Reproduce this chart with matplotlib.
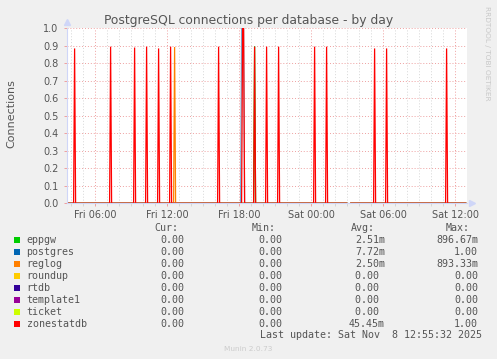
import numpy as np
import matplotlib
matplotlib.use("Agg")
import matplotlib.pyplot as plt

W, H = 497, 359

# time axis in hours counted from Fri 00:00, 5 minute samples
t_first, t_last = 3 + 43 / 60, 36 + 53 / 60
x_range = (3 + 40 / 60, 37.0)
tick_hours = [6, 12, 18, 24, 30, 36]
tick_labels = ["Fri 06:00", "Fri 12:00", "Fri 18:00", "Sat 00:00", "Sat 06:00", "Sat 12:00"]

names = ["eppgw", "postgres", "reglog", "roundup", "rtdb", "template1", "ticket", "zonestatdb"]
colors = ["#00CC00", "#0066B3", "#FF8000", "#FFCC00", "#330099", "#990099", "#CCFF00", "#FF0000"]
cur_vals = ["0.00", "0.00", "0.00", "0.00", "0.00", "0.00", "0.00", "0.00"]
min_vals = ["0.00", "0.00", "0.00", "0.00", "0.00", "0.00", "0.00", "0.00"]
avg_vals = ["2.51m", "7.72m", "2.50m", "0.00 ", "0.00 ", "0.00 ", "0.00 ", "45.45m"]
max_vals = ["896.67m", "1.00", "893.33m", "0.00", "0.00", "0.00", "0.00", "1.00"]

# non-zero samples: (hour, connections)
eppgw_spikes = [(19.3, 0.897)]
postgres_spikes = [(18.217, 1.0), (18.3, 1.0), (18.383, 1.0)]
reglog_spikes = [(12.633, 0.893)]
zonestatdb_spikes = [(4.3, 0.885), (7.3, 0.895), (9.3, 0.89), (10.3, 0.895), (11.3, 0.885),
                     (12.3, 0.895), (16.3, 0.895), (18.3, 1.0), (18.383, 1.0), (19.3, 0.895),
                     (20.3, 0.895), (21.3, 0.895), (24.3, 0.895), (25.3, 0.895), (29.3, 0.885),
                     (30.3, 0.885), (35.3, 0.885)]
spikes = {"eppgw": eppgw_spikes, "postgres": postgres_spikes,
          "reglog": reglog_spikes, "zonestatdb": zonestatdb_spikes}
missing_hours = [27.05, 27.133, 27.217]

times = np.arange(t_first, t_last + 1e-6, 1 / 12)


def series(name):
    v = np.zeros(len(times))
    for t, val in spikes.get(name, []):
        v[np.argmin(np.abs(times - t))] = val
    for t in missing_hours:
        v[np.argmin(np.abs(times - t))] = np.nan
    return v


def px(x, y):
    return x / W, 1 - y / H


fig = plt.figure(figsize=(W / 100, H / 100), dpi=100, facecolor="#F0F0F0")
ax = fig.add_axes([67 / W, (H - 203.3) / H, 400 / W, 175 / H])
ax.set_facecolor("white")

for name, c in zip(names, colors):
    alpha = 0.55 if name == "postgres" else 1.0
    ax.plot(times, series(name), color=c, lw=0.9, alpha=alpha, solid_joinstyle="miter")

ax.set_xlim(*x_range)
ax.set_ylim(0, 1.0)
ax.set_xticks(tick_hours)
ax.set_xticklabels(tick_labels)
ax.set_xticks(np.arange(4, 37), minor=True)
ax.set_yticks(np.arange(0, 1.01, 0.1))
ax.set_yticklabels(["%.1f" % v for v in np.arange(0, 1.01, 0.1)])

dots = (0, (1, 2))
ax.set_axisbelow(True)
ax.grid(True, which="minor", axis="x", color="#d6d6d6", linestyle=dots, lw=0.7)
ax.grid(True, which="major", axis="x", color="#eea0a0", linestyle=dots, lw=0.7)
ax.grid(True, which="major", axis="y", color="#eea0a0", linestyle=dots, lw=0.7)

ax.tick_params(axis="both", which="major", labelsize=7, labelcolor="#555555",
               color="#eea0a0", length=2, width=0.7)
ax.tick_params(axis="x", which="minor", color="#d6d6d6", length=2, width=0.7)
ax.tick_params(axis="x", which="major", pad=3)
ax.tick_params(axis="y", which="major", pad=4)

for s in ["top", "right"]:
    ax.spines[s].set_visible(False)
for s in ["left", "bottom"]:
    ax.spines[s].set_color("#cfd6f8")
    ax.spines[s].set_linewidth(0.8)

# axis arrows
ax.plot([0], [1.035], transform=ax.transAxes, marker="^", color="#cfd6f8", ms=5, clip_on=False)
ax.plot([1.012], [0], transform=ax.transAxes, marker=">", color="#cfd6f8", ms=5, clip_on=False)

fig.text(*px(248.5, 24), "PostgreSQL connections per database - by day", ha="center",
         va="baseline", fontsize=8.9, color="#555555")
fig.text(*px(11, 114), "Connections", rotation=90, ha="center", va="center",
         fontsize=8, color="#555555")
fig.text(*px(487, 53), "RRDTOOL / TOBI OETIKER", rotation=270, ha="center", va="center",
         fontsize=5.3, color="#c8c8c8")

mono = dict(family="DejaVu Sans Mono", fontsize=7.2, color="#555555", va="center")
for label, x in [("Cur:", 154), ("Min:", 252), ("Avg:", 350.5), ("Max:", 445.5)]:
    fig.text(*px(x, 227.7), label, ha="left", **mono)

for i, name in enumerate(names):
    y = 240 + 12 * i
    fig.patches.append(plt.Rectangle(px(14, y + 3), 6 / W, 6 / H, transform=fig.transFigure,
                                     facecolor=colors[i], edgecolor="none"))
    fig.text(*px(26.5, y), name, ha="left", **mono)
    fig.text(*px(184, y), cur_vals[i], ha="right", **mono)
    fig.text(*px(282, y), min_vals[i], ha="right", **mono)
    fig.text(*px(385, y), avg_vals[i], ha="right", **mono)
    fig.text(*px(478, y), max_vals[i], ha="right", **mono)

fig.text(*px(482, 335), "Last update: Sat Nov  8 12:55:32 2025", ha="right", **mono)
fig.text(*px(248, 349), "Munin 2.0.73", ha="center", va="center", fontsize=5.3, color="#cccccc")

fig.savefig("out.png", dpi=100, facecolor=fig.get_facecolor())
